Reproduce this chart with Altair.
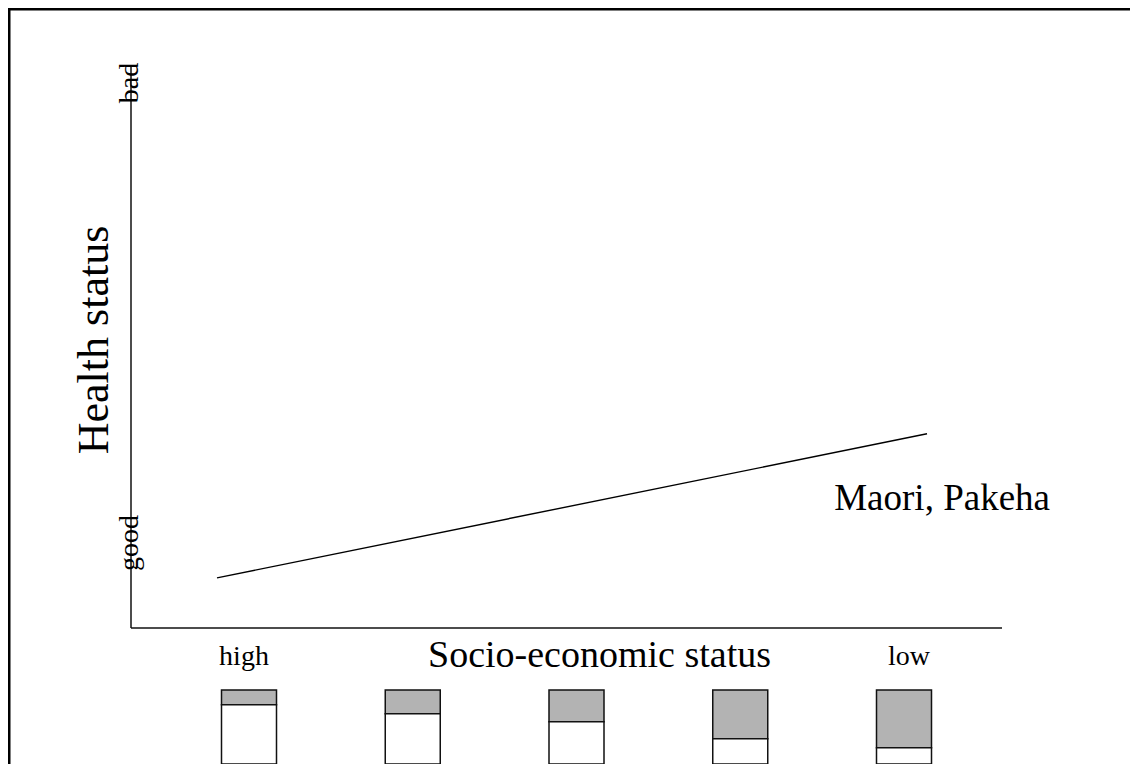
import altair as alt
import pandas as pd

# ---- data ----
quintiles = [1, 2, 3, 4, 5]                       # SES groups, high -> low
maori_share = [0.20, 0.32, 0.43, 0.66, 0.78]      # grey part of each bar
line_ses = [1, 5]                                 # line end points (SES)
line_health = [8.9, 34.5]                         # health status (0 = bottom of axis, 100 = top)
ses_labels = ["high", "low"]
ses_label_pos = [1, 5]
health_labels = ["good", "bad"]
health_label_pos = [15.1, 96.8]
group_label = "Maori, Pakeha"
x_title = "Socio-economic status"
y_title = "Health status"

FONT = "Liberation Serif"
W, H = 1122, 756

MX = alt.Scale(domain=[0.5155, 5.4225], range=[123, 994], nice=False, zero=False)
MY = alt.Scale(domain=[0, 100], range=[620, 57], nice=False, zero=False)
BX = alt.Scale(domain=[1, 5], range=[236, 901], nice=False, zero=False)
BY = alt.Scale(domain=[0, 1], range=[756, 682], nice=False, zero=False)

one = pd.DataFrame({"a": [0]})

# frame (top and left edges)
border_top = alt.Chart(one).mark_rule(color="black", strokeWidth=2.6).encode(
    x=alt.value(0), x2=alt.value(W), y=alt.value(1.2))
border_left = alt.Chart(one).mark_rule(color="black", strokeWidth=2.6).encode(
    x=alt.value(1.2), y=alt.value(0), y2=alt.value(H))

# axis lines
xmin, xmax = MX.domain[0], MX.domain[1]
ax_df = pd.DataFrame({"x0": [xmin, xmin], "x1": [xmax, xmin], "y0": [0, 0], "y1": [0, 100]})
axes = alt.Chart(ax_df).mark_rule(color="#111", strokeWidth=1.5).encode(
    x=alt.X("x0:Q", scale=MX, axis=None), x2="x1:Q",
    y=alt.Y("y0:Q", scale=MY, axis=None), y2="y1:Q")

# health line
line_df = pd.DataFrame({"ses": line_ses, "health": line_health})
line = alt.Chart(line_df).mark_line(color="black", strokeWidth=1.4).encode(
    x=alt.X("ses:Q", scale=MX, axis=None),
    y=alt.Y("health:Q", scale=MY, axis=None))

# good / bad labels straddling the y axis
hl_df = pd.DataFrame({"label": health_labels, "pos": health_label_pos, "x": [xmin, xmin]})
hlabels = alt.Chart(hl_df).mark_text(font=FONT, fontSize=28, angle=270, align="center",
                                     baseline="alphabetic", dy=6.5, color="black").encode(
    x=alt.X("x:Q", scale=MX, axis=None),
    y=alt.Y("pos:Q", scale=MY, axis=None),
    text="label:N")

# group label
grp_df = pd.DataFrame({"label": [group_label], "x": [5.085], "y": [20.96]})
grp = alt.Chart(grp_df).mark_text(font=FONT, fontSize=37, align="center",
                                  baseline="alphabetic", color="black").encode(
    x=alt.X("x:Q", scale=MX, axis=None),
    y=alt.Y("y:Q", scale=MY, axis=None),
    text="label:N")

# titles
ytitle = alt.Chart(one).mark_text(font=FONT, fontSize=44, angle=270, align="center",
                                  baseline="alphabetic", color="black", text=y_title).encode(
    x=alt.value(100), y=alt.value(332))
xtitle = alt.Chart(one).mark_text(font=FONT, fontSize=38, align="center",
                                  baseline="alphabetic", color="black", text=x_title).encode(
    x=alt.value(591.5), y=alt.value(659))

# high / low labels
sl_df = pd.DataFrame({"label": ses_labels, "q": ses_label_pos})
slabels = alt.Chart(sl_df).mark_text(font=FONT, fontSize=28, align="center",
                                     baseline="alphabetic", color="black").encode(
    x=alt.X("q:Q", scale=BX, axis=None),
    y=alt.value(657),
    text="label:N")

# bars
rows = []
for q, s in zip(quintiles, maori_share):
    rows.append({"q": q, "part": "Maori", "lo": 1 - s, "hi": 1.0})
    rows.append({"q": q, "part": "other", "lo": 0.0, "hi": 1 - s})
bar_df = pd.DataFrame(rows)
bars = alt.Chart(bar_df).mark_bar(size=55, stroke="#111", strokeWidth=1.5).encode(
    x=alt.X("q:Q", scale=BX, axis=None),
    y=alt.Y("lo:Q", scale=BY, axis=None),
    y2="hi:Q",
    color=alt.Color("part:N", scale=alt.Scale(domain=["Maori", "other"],
                                              range=["#b3b3b3", "#ffffff"]), legend=None))

chart = alt.layer(
    border_top, border_left, axes, line, hlabels, grp, ytitle, xtitle, slabels, bars
).resolve_scale(
    x="independent", y="independent", color="independent"
).properties(
    width=W, height=H, padding=0,
    autosize=alt.AutoSizeParams(type="none"),
    background="white",
).configure_view(strokeWidth=0)

chart.save("out.html", embed_options={"renderer": "svg", "actions": False})
